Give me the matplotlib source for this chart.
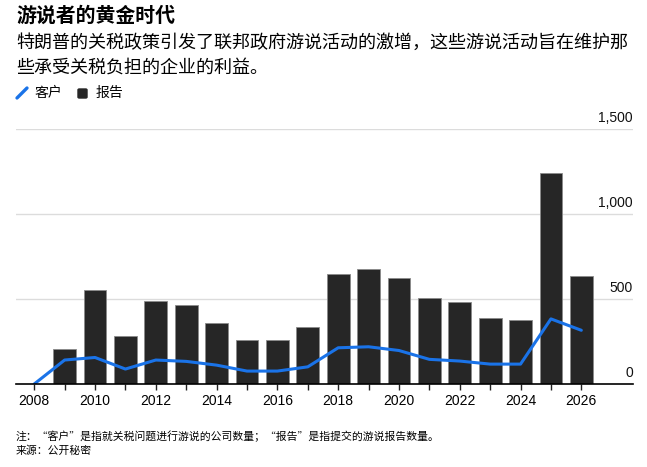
import matplotlib
matplotlib.use("Agg")
import matplotlib.pyplot as plt
from matplotlib.lines import Line2D
from matplotlib.patches import FancyBboxPatch

# 数据
years = list(range(2008, 2027))
reports = [0, 207, 555, 281, 488, 467, 359, 256, 258, 338,
           645, 674, 621, 508, 481, 391, 379, 1240, 637]
clients = [0, 141, 156, 88, 141, 133, 111, 76, 76, 101,
           213, 219, 197, 145, 135, 117, 117, 383, 316]
y_ticks = [0, 500, 1000, 1500]
x_labels = list(range(2008, 2027, 2))

cjk = ['Noto Sans CJK SC', 'DejaVu Sans']
num = ['Liberation Sans', 'DejaVu Sans']
W, H = 647, 467

fig = plt.figure(figsize=(6.47, 4.67), dpi=100)
ax = fig.add_axes([16 / W, 1 - 384 / H, (633 - 16) / W, (384 - 129) / H])

ax.bar(years, reports, width=0.75, color='#262626', edgecolor='#8a8a8a',
       linewidth=0.6, zorder=2)
ax.plot(years, clients, color='#1a73e8', linewidth=2.2, zorder=3,
        solid_joinstyle='round', solid_capstyle='round')

ax.set_xlim(2007.4, 2027.7)
ax.set_ylim(0, 1500)

# 网格线和 y 轴标签
for v in y_ticks:
    if v > 0:
        ax.axhline(v, color='#dcdcdc', linewidth=1, zorder=1)
    ax.annotate(f"{v:,}", xy=(1, v), xycoords=('axes fraction', 'data'),
                xytext=(0, 3), textcoords='offset points',
                ha='right', va='bottom', fontsize=10, family=num, color='#111111')

ax.set_yticks([])
for s in ['top', 'right', 'left']:
    ax.spines[s].set_visible(False)
ax.spines['bottom'].set_linewidth(1.2)
ax.spines['bottom'].set_zorder(4)

ax.set_xticks(x_labels)
ax.set_xticklabels([str(y) for y in x_labels], fontsize=10, family=num)
ax.set_xticks([y for y in years if y not in x_labels], minor=True)
ax.tick_params(axis='x', which='both', length=4, width=1, direction='out',
               color='#222222', pad=3)

# 标题
fig.text(16 / W, 1 - 15 / H, "游说者的黄金时代", fontsize=14.3, fontweight='bold',
         family=cjk, va='center', ha='left')
fig.text(16 / W, 1 - 43 / H,
         "特朗普的关税政策引发了联邦政府游说活动的激增，这些游说活动旨在维护那",
         fontsize=13, family=cjk, va='center', ha='left')
fig.text(16 / W, 1 - 68 / H, "些承受关税负担的企业的利益。",
         fontsize=13, family=cjk, va='center', ha='left')

# 图例
fig.add_artist(Line2D([17 / W, 27 / W], [1 - 98 / H, 1 - 88 / H],
                      transform=fig.transFigure, color='#1a73e8', linewidth=2.4,
                      solid_capstyle='round'))
fig.text(34 / W, 1 - 93 / H, "客户", fontsize=10, family=cjk, va='center', ha='left')
fig.add_artist(FancyBboxPatch((78 / W, 1 - 98 / H), 9 / W, 9 / H,
                              boxstyle='round,pad=0,rounding_size=0.002',
                              transform=fig.transFigure, color='#262626'))
fig.text(96 / W, 1 - 93 / H, "报告", fontsize=10, family=cjk, va='center', ha='left')

# 注释
fig.text(16 / W, 1 - 436 / H,
         "注：“客户”是指就关税问题进行游说的公司数量；“报告”是指提交的游说报告数量。",
         fontsize=7.8, family=cjk, va='center', ha='left')
fig.text(16 / W, 1 - 451 / H, "来源：公开秘密",
         fontsize=7.8, family=cjk, va='center', ha='left')

fig.savefig("out.png", dpi=100)
